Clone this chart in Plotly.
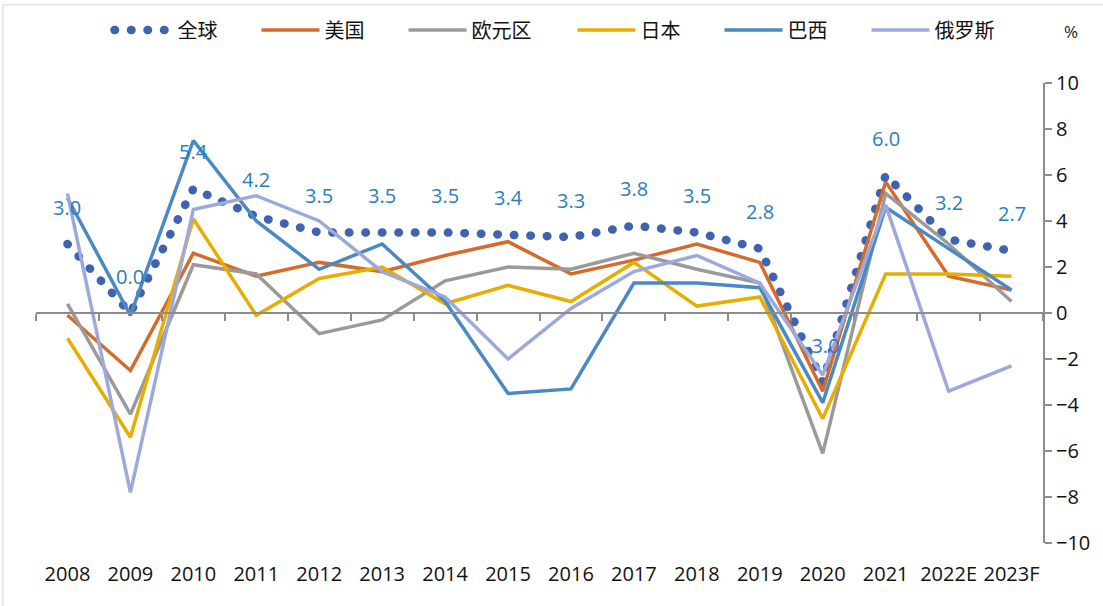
import plotly.graph_objects as go

categories = ["2008", "2009", "2010", "2011", "2012", "2013", "2014", "2015",
              "2016", "2017", "2018", "2019", "2020", "2021", "2022E", "2023F"]

world = [3.0, 0.0, 5.4, 4.2, 3.5, 3.5, 3.5, 3.4, 3.3, 3.8, 3.5, 2.8, -3.0, 6.0, 3.2, 2.7]
usa = [-0.1, -2.5, 2.6, 1.6, 2.2, 1.8, 2.5, 3.1, 1.7, 2.3, 3.0, 2.2, -3.4, 5.7, 1.6, 1.0]
euro = [0.4, -4.4, 2.1, 1.7, -0.9, -0.3, 1.4, 2.0, 1.9, 2.6, 1.9, 1.3, -6.1, 5.2, 3.0, 0.5]
japan = [-1.1, -5.4, 4.1, -0.1, 1.5, 2.0, 0.4, 1.2, 0.5, 2.2, 0.3, 0.7, -4.6, 1.7, 1.7, 1.6]
brazil = [5.0, -0.1, 7.5, 4.0, 1.9, 3.0, 0.5, -3.5, -3.3, 1.3, 1.3, 1.1, -3.9, 4.6, 2.8, 1.0]
russia = [5.2, -7.8, 4.5, 5.1, 4.0, 1.8, 0.7, -2.0, 0.2, 1.8, 2.5, 1.3, -2.7, 4.7, -3.4, -2.3]

series_names = ["全球", "美国", "欧元区", "日本", "巴西", "俄罗斯"]
colors = ["#3D63B2", "#D46B2A", "#9A9A9A", "#E5AE00", "#4A89C2", "#9DA9DA"]
legend_widths = [74, 74, 96, 74, 74, 96]

y_ticks = list(range(-10, 11, 2))
positions = list(range(len(categories)))

fig = go.Figure()

all_series = [world, usa, euro, japan, brazil, russia]
for i, (name, vals) in enumerate(zip(series_names, all_series)):
    if i == 0:
        line = dict(color=colors[i], width=8.5, dash="0.5px,16px")
    else:
        line = dict(color=colors[i], width=3.5)
    fig.add_trace(go.Scatter(
        x=positions, y=vals, name=name, mode="lines", line=line,
        legendwidth=legend_widths[i], xaxis="x2", yaxis="y",
    ))

# data labels for world series
for p, v in zip(positions, world):
    fig.add_annotation(x=p, y=v, xref="x2", yref="y", text=f"{v:.1f}",
                       showarrow=False, yshift=37,
                       font=dict(family="Open Sans", size=20, color="#2A7DC1"))

fig.add_annotation(x=1.037, y=1.141, xref="paper", yref="paper", text="%",
                   showarrow=False, font=dict(family="Open Sans", size=17, color="#222"))

fig.update_layout(
    width=1103, height=606,
    margin=dict(l=36, r=60, t=83, b=63, autoexpand=False),
    paper_bgcolor="white", plot_bgcolor="white",
    showlegend=True,
    legend=dict(orientation="h", x=0.073, xanchor="left", y=1.115, yanchor="middle",
                font=dict(family="Noto Sans CJK SC", size=20, color="#111"),
                itemwidth=58, bgcolor="rgba(0,0,0,0)"),
    xaxis=dict(type="linear", range=[-0.5, len(categories) - 0.5],
               tickmode="array", tickvals=[p - 0.5 for p in positions] + [len(categories) - 0.5],
               anchor="free", position=0.5, showline=True, linecolor="#8C8C8C", linewidth=2,
               ticks="outside", ticklen=7, tickcolor="#8C8C8C", tickwidth=2,
               showticklabels=False, showgrid=False, zeroline=False, automargin=False),
    xaxis2=dict(overlaying="x", anchor="y", side="bottom", type="linear",
                range=[-0.5, len(categories) - 0.5],
                tickmode="array", tickvals=positions, ticktext=categories,
                showline=False, ticks="", showgrid=False, zeroline=False,
                ticklabelstandoff=17, automargin=False,
                tickfont=dict(family="Open Sans", size=20, color="#111")),
    yaxis=dict(side="right", range=[-10, 10], tickmode="array", tickvals=y_ticks,
               showline=True, linecolor="#8C8C8C", linewidth=2, ticks="outside",
               ticklen=7, tickcolor="#8C8C8C", tickwidth=2, showgrid=False, zeroline=False,
               automargin=False,
               tickfont=dict(family="Open Sans", size=20, color="#111")),
    shapes=[dict(type="rect", xref="paper", yref="paper", x0=-0.033, x1=1.2, y0=-0.3, y1=1.17,
                 line=dict(color="#E6E6E6", width=2), layer="below")],
)

# dummy trace to activate xaxis (boundary ticks / zero line)
fig.add_trace(go.Scatter(x=[0], y=[None], xaxis="x", yaxis="y", showlegend=False,
                         hoverinfo="skip", mode="lines"))

post = """
document.body.style.margin = '0';
document.body.style.overflow = 'hidden';
var s = document.createElement('style');
s.innerHTML = '.scatterlayer .trace:first-child .js-line, .legend .traces:first-child .js-line {stroke-linecap: round !important;}';
document.head.appendChild(s);
"""

fig.write_html("out.html", post_script=post, config={"displayModeBar": False})
